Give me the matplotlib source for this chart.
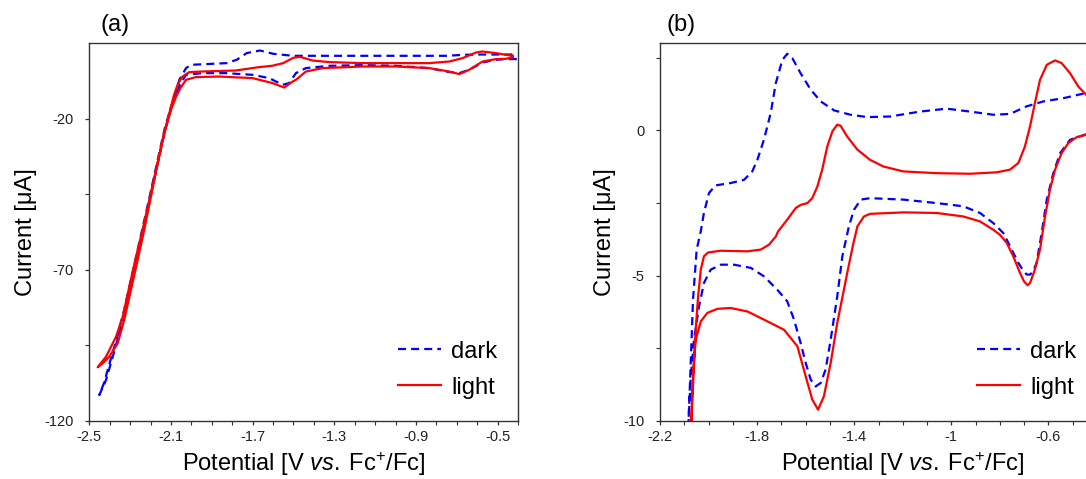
import numpy as np
import matplotlib
matplotlib.use("Agg")
import matplotlib.pyplot as plt
from matplotlib.ticker import MultipleLocator, FixedLocator, FormatStrFormatter

plt.rcParams['font.family'] = ['Liberation Sans', 'DejaVu Sans']
plt.rcParams['mathtext.fontset'] = 'custom'
plt.rcParams['mathtext.rm'] = 'Liberation Sans'
plt.rcParams['mathtext.it'] = 'Liberation Sans:italic'

# ---- (a) wide window, potential in V vs Fc+/Fc, current in uA ----
# cathodic sweep (going negative) then the return sweep
dark_a_fwd_E = [-0.406, -0.459, -0.508, -0.574, -0.639, -0.688, -0.753, -0.835, -0.998, -1.161,
                -1.325, -1.439, -1.488, -1.521, -1.553, -1.619, -1.700, -1.831, -1.945, -2.026,
                -2.056, -2.092, -2.124, -2.157, -2.190, -2.222, -2.255, -2.288, -2.320, -2.353,
                -2.385, -2.418, -2.451]
dark_a_fwd_I = [-0.23, -0.23, -0.46, -1.35, -3.77, -4.87, -4.34, -3.21, -2.45, -2.22,
                -2.45, -3.21, -4.87, -8.18, -8.74, -6.52, -5.43, -4.87, -4.87, -5.43,
                -8.74, -14.80, -22.55, -32.48, -42.42, -52.35, -62.29, -72.22, -82.15, -90.96,
                -98.71, -106.42, -111.39]
dark_a_rev_E = [-2.428, -2.396, -2.362, -2.328, -2.295, -2.262, -2.229, -2.196, -2.164, -2.131,
                -2.098, -2.075, -2.059, -2.026, -2.002, -1.827, -1.778, -1.729, -1.664, -1.599,
                -1.501, -0.750, -0.668, -0.587, -0.424]
dark_a_rev_I = [-107.42, -99.80, -91.86, -82.92, -72.98, -63.05, -53.12, -43.18, -33.25, -23.31,
                -15.70, -11.06, -7.08, -3.21, -2.12, -1.56, -0.46, 1.76, 2.62, 1.52,
                0.86, 0.86, 1.19, 1.29, 1.29]

light_a_fwd_E = [-0.425, -0.459, -0.508, -0.574, -0.639, -0.688, -0.737, -0.835, -0.998, -1.161,
                 -1.357, -1.439, -1.488, -1.504, -1.545, -1.602, -1.700, -1.863, -1.978, -2.026,
                 -2.053, -2.075, -2.100, -2.133, -2.165, -2.198, -2.231, -2.263, -2.296, -2.329,
                 -2.361, -2.402, -2.434, -2.459]
light_a_fwd_I = [0.37, -0.13, -0.23, -1.03, -3.77, -5.20, -4.34, -3.21, -2.68, -2.68,
                 -3.21, -4.34, -7.09, -7.65, -9.64, -8.18, -6.52, -6.00, -6.19, -7.09,
                 -9.73, -12.71, -17.02, -24.74, -34.67, -45.73, -56.76, -66.69, -76.62, -86.56,
                 -94.27, -98.71, -100.89, -102.22]
light_a_rev_E = [-2.443, -2.418, -2.369, -2.336, -2.304, -2.271, -2.239, -2.206, -2.173, -2.141,
                 -2.108, -2.085, -2.066, -2.043, -2.010, -1.945, -1.782, -1.668, -1.605, -1.550,
                 -1.501, -1.468, -1.406, -1.325, -1.161, -0.998, -0.835, -0.737, -0.671, -0.606,
                 -0.574, -0.508, -0.459, -0.425]
light_a_rev_I = [-100.8, -98.71, -92.09, -85.46, -75.53, -65.60, -56.76, -46.82, -36.89, -26.95,
                 -18.11, -12.05, -8.41, -5.99, -4.53, -4.33, -4.00, -2.88, -2.45, -1.56,
                 0.20, 0.53, -0.70, -1.22, -1.56, -1.56, -1.56, -1.03, 0.10, 1.95,
                 2.29, 1.76, 1.19, 0.86]

# ---- (b) narrow window ----
dark_b_fwd_E = [-0.445, -0.511, -0.552, -0.580, -0.607, -0.628, -0.649, -0.664, -0.676, -0.690,
                -0.709, -0.724, -0.758, -0.786, -0.827, -0.882, -0.951, -1.060, -1.198, -1.335,
                -1.373, -1.401, -1.422, -1.449, -1.470, -1.497, -1.518, -1.538, -1.559, -1.579,
                -1.600, -1.621, -1.648, -1.676, -1.717, -1.772, -1.826, -1.895, -1.950, -1.991,
                -2.019, -2.039, -2.060, -2.074, -2.083]
dark_b_fwd_I = [-0.13, -0.32, -0.78, -1.47, -2.38, -3.53, -4.56, -4.86, -4.96, -4.96,
                -4.76, -4.56, -3.99, -3.53, -3.19, -2.84, -2.61, -2.50, -2.38, -2.33,
                -2.38, -2.73, -3.30, -4.33, -5.71, -7.20, -8.23, -8.69, -8.81, -8.58,
                -8.00, -7.31, -6.51, -5.88, -5.48, -5.02, -4.73, -4.62, -4.62, -4.79,
                -5.25, -6.05, -7.20, -8.58, -10.12]
dark_b_rev_E = [-2.076, -2.064, -2.049, -2.032, -2.019, -1.998, -1.971, -1.909, -1.854, -1.820,
                -1.799, -1.772, -1.744, -1.723, -1.696, -1.676, -1.655, -1.621, -1.579, -1.538,
                -1.483, -1.415, -1.346, -1.253, -1.129, -1.019, -0.923, -0.827, -0.758, -0.690,
                -0.621, -0.539, -0.445]
dark_b_rev_I = [-8.58, -5.82, -4.10, -3.47, -2.83, -2.15, -1.89, -1.81, -1.70, -1.41,
                -1.01, -0.32, 0.60, 1.63, 2.43, 2.64, 2.49, 1.97, 1.40, 1.00,
                0.69, 0.54, 0.46, 0.48, 0.65, 0.75, 0.65, 0.54, 0.57, 0.83,
                1.00, 1.11, 1.29]

light_b_fwd_E = [-0.445, -0.484, -0.518, -0.546, -0.573, -0.594, -0.614, -0.635, -0.656, -0.676,
                 -0.686, -0.701, -0.717, -0.745, -0.772, -0.800, -0.827, -0.882, -0.951, -1.060,
                 -1.198, -1.335, -1.360, -1.387, -1.405, -1.429, -1.470, -1.497, -1.525, -1.549,
                 -1.573, -1.600, -1.634, -1.689, -1.772, -1.840, -1.909, -1.964, -2.005, -2.032,
                 -2.053, -2.063, -2.068, -2.071]
light_b_fwd_I = [-0.15, -0.23, -0.43, -0.78, -1.35, -2.04, -2.96, -4.10, -4.79, -5.25,
                 -5.33, -5.19, -4.91, -4.33, -3.87, -3.59, -3.42, -3.13, -2.96, -2.84,
                 -2.82, -2.87, -2.96, -3.30, -3.94, -4.91, -6.63, -8.00, -9.15, -9.61,
                 -9.26, -8.46, -7.43, -6.86, -6.51, -6.23, -6.11, -6.14, -6.28, -6.57,
                 -7.20, -8.23, -9.15, -10.12]
light_b_rev_E = [-2.063, -2.053, -2.043, -2.032, -2.019, -2.002, -1.950, -1.840, -1.785, -1.751,
                 -1.723, -1.714, -1.676, -1.641, -1.620, -1.593, -1.573, -1.552, -1.532, -1.511,
                 -1.490, -1.470, -1.456, -1.429, -1.387, -1.335, -1.280, -1.198, -1.060, -0.923,
                 -0.813, -0.759, -0.724, -0.697, -0.676, -0.656, -0.635, -0.607, -0.573, -0.546,
                 -0.511, -0.477, -0.445]
light_b_rev_I = [-8.58, -6.86, -5.71, -4.79, -4.33, -4.20, -4.14, -4.16, -4.10, -3.93,
                 -3.65, -3.48, -3.07, -2.67, -2.56, -2.50, -2.33, -1.93, -1.35, -0.55,
                 -0.03, 0.20, 0.16, -0.21, -0.66, -1.01, -1.24, -1.41, -1.47, -1.49,
                 -1.44, -1.35, -1.12, -0.55, 0.14, 0.94, 1.74, 2.26, 2.41, 2.32,
                 1.97, 1.51, 1.23]

labels = ["dark", "light"]

W, H = 1086, 479
fig = plt.figure(figsize=(W / 100, H / 100), dpi=100)

# axes boxes in pixels
ax_a = fig.add_axes([89.3 / W, 1 - 421 / H, (518 - 89.3) / W, (421 - 43.3) / H])
# (b) runs past the right edge of the figure on purpose
ax_b = fig.add_axes([660 / W, 1 - 421 / H, 485.6 / W, (421 - 43.3) / H])

blue = "#0000ff"
red = "#ff0000"
lw = 1.6


def draw(ax, dE, dI, lE, lI):
    ax.plot(dE, dI, color=blue, lw=lw, dashes=(3.6, 2.3), label=labels[0])
    ax.plot(lE, lI, color=red, lw=lw, label=labels[1], solid_joinstyle="round")


draw(ax_a,
     dark_a_fwd_E + dark_a_rev_E, dark_a_fwd_I + dark_a_rev_I,
     light_a_fwd_E + light_a_rev_E, light_a_fwd_I + light_a_rev_I)
draw(ax_b,
     dark_b_fwd_E + dark_b_rev_E, dark_b_fwd_I + dark_b_rev_I,
     light_b_fwd_E + light_b_rev_E, light_b_fwd_I + light_b_rev_I)

ax_a.set_xlim(-2.5, -0.4)
ax_a.set_ylim(-120, 5)
ax_a.xaxis.set_major_locator(FixedLocator([-2.5, -2.1, -1.7, -1.3, -0.9, -0.5]))
ax_a.xaxis.set_minor_locator(MultipleLocator(0.1))
ax_a.yaxis.set_major_locator(FixedLocator([-120, -70, -20]))
ax_a.yaxis.set_minor_locator(FixedLocator([-95, -45]))

ax_b.set_xlim(-2.2, -0.2)
ax_b.set_ylim(-10, 3)
ax_b.xaxis.set_major_locator(FixedLocator([-2.2, -1.8, -1.4, -1.0, -0.6]))
ax_b.xaxis.set_minor_locator(MultipleLocator(0.1))
ax_b.yaxis.set_major_locator(FixedLocator([-10, -5, 0]))
ax_b.yaxis.set_minor_locator(FixedLocator([-7.5, -2.5, 2.5]))

xlab = r"Potential [V $\mathit{vs.}\;$Fc$^{+}$/Fc]"
for ax, ypad in ((ax_a, 5.5), (ax_b, 5.5)):
    ax.xaxis.set_major_formatter(FormatStrFormatter("%g"))
    ax.yaxis.set_major_formatter(FormatStrFormatter("%g"))
    for s in ax.spines.values():
        s.set_color("#333333")
        s.set_linewidth(1.0)
    ax.tick_params(which="major", direction="out", length=3.2, width=0.9,
                   color="#333333", labelsize=10.5, labelcolor="#222222")
    ax.tick_params(axis="x", which="major", pad=3)
    ax.tick_params(axis="y", which="major", pad=8)
    ax.tick_params(which="minor", direction="out", length=2.6, width=0.8, color="#333333")
    ax.set_xlabel(xlab, fontsize=17, labelpad=5)
    ax.set_ylabel("Current [μA]", fontsize=17, labelpad=ypad)

leg_kw = dict(frameon=False, fontsize=17, loc="upper left", borderpad=0, borderaxespad=0,
              handlelength=1.8, handletextpad=0.45, labelspacing=0.6,
              bbox_transform=fig.transFigure)
ax_a.legend(bbox_to_anchor=(398 / W, 1 - 340.5 / H), **leg_kw)
ax_b.legend(bbox_to_anchor=(977 / W, 1 - 340.5 / H), **leg_kw)

fig.text(100 / W, 1 - 14 / H, "(a)", fontsize=17, va="top")
fig.text(666 / W, 1 - 14 / H, "(b)", fontsize=17, va="top")

fig.savefig("out.png", dpi=100)
